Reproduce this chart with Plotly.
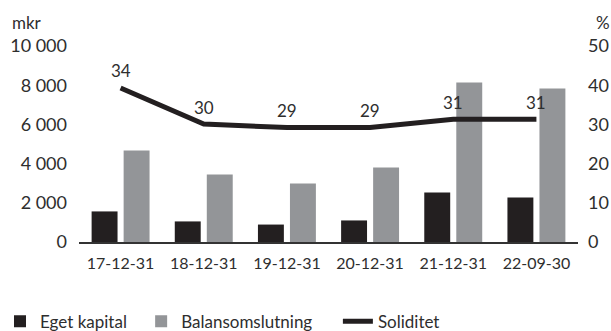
import plotly.graph_objects as go

categories = ["17-12-31", "18-12-31", "19-12-31", "20-12-31", "21-12-31", "22-09-30"]
eget_kapital = [1560, 1050, 890, 1100, 2530, 2270]
balansomslutning = [4670, 3440, 2980, 3800, 8140, 7830]
soliditet = [39.3, 30.1, 29.2, 29.2, 31.3, 31.3]
soliditet_labels = ["34", "30", "29", "29", "31", "31"]

left_tickvals = [0, 2000, 4000, 6000, 8000, 10000]
left_ticktext = ["0", "2 000", "4 000", "6 000", "8 000", "10 000"]
right_tickvals = [0, 10, 20, 30, 40, 50]
right_ticktext = ["0", "10", "20", "30", "40", "50"]

DARK = "#231f20"
GREY = "#939598"
TEXT = "#2e2e2e"
FONT = "Lato"

fig = go.Figure()
fig.add_trace(go.Bar(x=categories, y=eget_kapital, name="Eget kapital", showlegend=True,
                     marker=dict(color=DARK, line=dict(width=0)), legend="legend"))
fig.add_trace(go.Bar(x=categories, y=balansomslutning, name="Balansomslutning", showlegend=True,
                     marker=dict(color=GREY, line=dict(width=0)), legend="legend2"))
fig.add_trace(go.Scatter(x=categories, y=soliditet, name="Soliditet", mode="lines", showlegend=True,
                         line=dict(color=DARK, width=5), yaxis="y2", legend="legend3"))

for c, v, t in zip(categories, soliditet, soliditet_labels):
    fig.add_annotation(x=c, y=v, yref="y2", text=t, showarrow=False,
                       yshift=17, font=dict(family=FONT, size=17, color=TEXT))

fig.add_annotation(x=-0.138, xref="paper", y=1.0, yref="paper", yshift=24, text="mkr",
                   showarrow=False, xanchor="left", yanchor="middle",
                   font=dict(family=FONT, size=17, color=TEXT))
fig.add_annotation(x=1.033, xref="paper", y=1.0, yref="paper", yshift=24, text="%",
                   showarrow=False, xanchor="left", yanchor="middle",
                   font=dict(family=FONT, size=17, color=TEXT))

legend_common = dict(orientation="h", yanchor="top", y=-0.315, xanchor="left", xref="container",
                     visible=True, bgcolor="rgba(0,0,0,0)",
                     font=dict(family=FONT, size=17, color=TEXT))

fig.update_layout(
    width=611, height=331,
    showlegend=True,
    margin=dict(l=79, r=33, t=46, b=89, autoexpand=False),
    paper_bgcolor="white", plot_bgcolor="white",
    font=dict(family=FONT, size=17, color=TEXT),
    barmode="group", bargap=0.23, bargroupgap=0.19,
    xaxis=dict(type="category", showgrid=False, showline=True, linecolor="#333333",
               linewidth=1.5, ticks="", tickfont=dict(family=FONT, size=16, color=TEXT),
               ticklabelstandoff=6),
    yaxis=dict(range=[0, 10000], tickvals=left_tickvals, ticktext=left_ticktext,
               showgrid=False, zeroline=False, showline=False, ticks="",
               tickfont=dict(family=FONT, size=18, color=TEXT), ticklabelstandoff=11),
    yaxis2=dict(range=[0, 50], tickvals=right_tickvals, ticktext=right_ticktext,
                overlaying="y", side="right", showgrid=False, zeroline=False,
                showline=False, ticks="", tickfont=dict(family=FONT, size=18, color=TEXT),
                ticklabelstandoff=9),
    legend=dict(x=0.0, **legend_common),
    legend2=dict(x=0.231, **legend_common),
    legend3=dict(x=0.553, **legend_common),
)

fig.write_html("out.html")
